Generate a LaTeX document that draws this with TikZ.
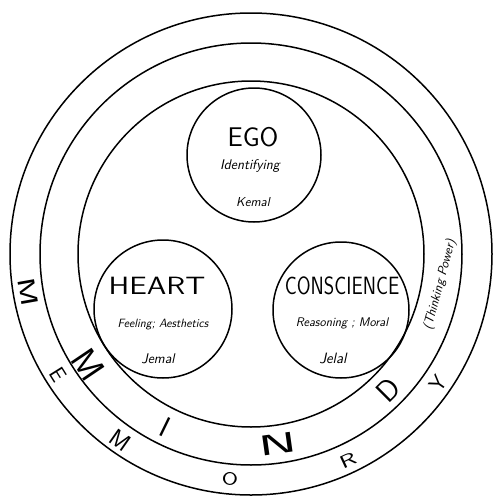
\documentclass[tikz,border=0pt]{standalone}
\usepackage{graphicx}
\begin{document}
\begin{tikzpicture}[x=1pt,y=-1pt,
  ring/.style={circle,draw,line width=1.5pt,inner sep=0pt,outer sep=0pt},
  title/.style={inner sep=0pt,font=\sffamily},
  sub/.style={inner sep=0pt,font=\sffamily\itshape},
  bigletter/.style={inner sep=0pt,font=\sffamily}
]
\useasboundingbox (0,0) rectangle (493,496);
% rings
\node[ring,minimum size=482] (outer) at (251,254) {};
\node[ring,minimum size=422] (middle) at (251,254) {};
\node[ring,minimum size=346] (inner) at (251,254) {};
% three faculties
\node[ring,minimum size=134] (ego) at (254,155) {};
\node[ring,minimum size=138] (heart) at (163,309) {};
\node[ring,minimum size=136] (consc) at (341,310) {};
% EGO texts
\node[title] (egot) at (253,137) {\fontsize{27}{27}\selectfont EGO};
\node[sub] (egos) at (250,166) {\fontsize{14}{14}\selectfont Identifying};
\node[sub] (egon) at (253,202) {\fontsize{13}{13}\selectfont Kemal};
% HEART texts
\node[title] (heartt) at (157,286) {\scalebox{1.25}[1]{\fontsize{25}{25}\selectfont HEART}};
\node[sub] (hearts) at (163,325) {\fontsize{12}{12}\selectfont Feeling; Aesthetics};
\node[sub] (heartn) at (158,359) {\fontsize{14}{14}\selectfont Jemal};
% CONSCIENCE texts
\node[title] (consct) at (342,286) {\scalebox{1}[1.25]{\fontsize{20}{20}\selectfont CONSCIENCE}};
\node[sub] (conscs) at (342,323) {\fontsize{12.5}{12.5}\selectfont Reasoning ; Moral};
\node[sub] (conscn) at (333,358) {\fontsize{15}{15}\selectfont Jelal};
% thinking power
\node[sub,rotate=75] (think) at (440,285) {\fontsize{13}{13}\selectfont (Thinking Power)};
% MEMORY (outer ring)
\node[bigletter,rotate=-80] (mem1) at (28,292) {\scalebox{1.45}[1]{\fontsize{24}{24}\selectfont M}};
\node[bigletter,rotate=-58] (mem2) at (58,375) {\fontsize{22}{22}\selectfont E};
\node[bigletter,rotate=-35] (mem3) at (120,440) {\fontsize{24}{24}\selectfont M};
\node[bigletter,rotate=-5] (mem4) at (230,479) {\scalebox{1.3}[1]{\fontsize{18}{18}\selectfont O}};
\node[bigletter,rotate=25] (mem5) at (348,460) {\scalebox{1.5}[1]{\fontsize{18}{18}\selectfont R}};
\node[bigletter,rotate=55] (mem6) at (438,383) {\fontsize{22}{22}\selectfont Y};
% MIND (middle ring)
\node[bigletter,rotate=-56] (mind1) at (88,365) {\fontsize{36}{36}\selectfont M};
\node[bigletter,rotate=-26] (mind2) at (165,427) {\fontsize{29}{29}\selectfont I};
\node[bigletter,rotate=8] (mind3) at (278,444) {\scalebox{2.2}[1.1]{\fontsize{26}{26}\selectfont N}};
\node[bigletter,rotate=45] (mind4) at (388,390) {\fontsize{30}{30}\selectfont D};
\end{tikzpicture}
\end{document}
